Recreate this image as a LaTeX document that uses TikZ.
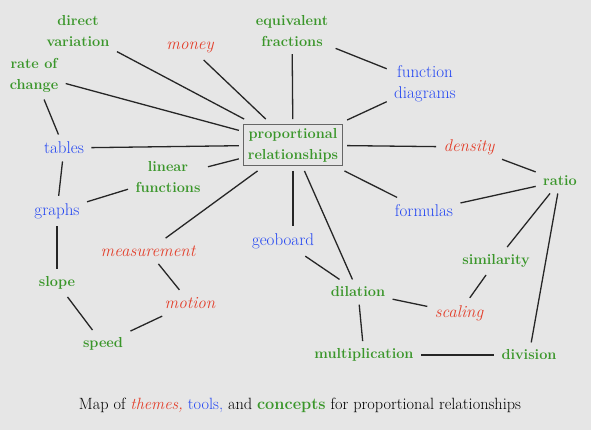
\documentclass[tikz,border=0pt]{standalone}
\usepackage{xcolor}

\definecolor{conceptgreen}{HTML}{3A962A}
\definecolor{toolblue}{HTML}{2346F2}
\definecolor{themered}{HTML}{E33E2A}
\definecolor{bggray}{HTML}{E6E6E6}

\tikzset{
  concept/.style={text=conceptgreen, font=\fontsize{14.5}{21}\selectfont\bfseries, align=center, inner sep=3pt, outer sep=4.5pt},
  tool/.style={text=toolblue, font=\fontsize{17}{21}\selectfont, align=center, inner sep=3pt, outer sep=4.5pt},
  theme/.style={text=themered, font=\fontsize{17}{21}\selectfont\itshape, align=center, inner sep=3pt, outer sep=4.5pt},
  link/.style={line width=1.3pt, draw=black!85}
}

\begin{document}
\begin{tikzpicture}[x=1pt, y=-1pt]
  \fill[bggray] (0,0) rectangle (591,430);
  \useasboundingbox (0,0) rectangle (591,430);

  % centre of the map
  \node[concept, draw=black!60, line width=1pt, inner sep=4pt, outer sep=5pt] (pr) at (293,145) {proportional\\relationships};

  % nodes
  \node[concept] (dirvar)   at (78,31)   {direct\\variation};
  \node[theme]   (money)    at (190,47)  {money};
  \node[concept] (rate)     at (34,75)   {rate of\\change};
  \node[concept] (eqfrac)   at (292,31)  {equivalent\\fractions};
  \node[tool]    (fundiag)  at (425,84)  {function\\diagrams};
  \node[tool]    (tables)   at (64,148)  {tables};
  \node[concept] (linfun)   at (168,177) {linear\\functions};
  \node[theme]   (density)  at (469,147) {density};
  \node[concept] (ratio)    at (560,181) {ratio};
  \node[tool]    (graphs)   at (57,211)  {graphs};
  \node[tool]    (formulas) at (424,211) {formulas};
  \node[theme]   (measure)  at (148,251) {measurement};
  \node[tool]    (geoboard) at (283,241) {geoboard};
  \node[concept] (slope)    at (57,283)  {slope};
  \node[theme]   (motion)   at (190,303) {motion};
  \node[concept] (similar)  at (496,261) {similarity};
  \node[concept] (dilation) at (358,292) {dilation};
  \node[theme]   (scaling)  at (459,313) {scaling};
  \node[concept] (speed)    at (103,344) {speed};
  \node[concept] (mult)     at (364,355) {multiplication};
  \node[concept] (division) at (529,355) {division};

  % spokes
  \draw[link] (dirvar) -- (pr);
  \draw[link] (money) -- (pr);
  \draw[link] (rate) -- (pr);
  \draw[link] (eqfrac) -- (pr);
  \draw[link] (fundiag) -- (pr);
  \draw[link] (tables) -- (pr);
  \draw[link] (linfun) -- (pr);
  \draw[link] (density) -- (pr);
  \draw[link] (measure) -- (pr);
  \draw[link] (pr.south) -- (pr.south |- geoboard.north);
  \draw[link] (dilation) -- (pr);
  \draw[link] (formulas) -- (pr);

  % other links
  \draw[link] (eqfrac) -- (fundiag);
  \draw[link] (rate) -- (tables);
  \draw[link] (tables) -- (graphs);
  \draw[link] (graphs) -- (linfun);
  \draw[link] (graphs) -- (slope);
  \draw[link] (slope) -- (speed);
  \draw[link] (speed) -- (motion);
  \draw[link] (motion) -- (measure);
  \draw[link] (density) -- (ratio);
  \draw[link] (ratio) -- (formulas);
  \draw[link] (ratio) -- (similar);
  \draw[link] (ratio) -- (division);
  \draw[link] (similar) -- (scaling);
  \draw[link] (scaling) -- (dilation);
  \draw[link] (dilation) -- (geoboard);
  \draw[link] (dilation) -- (mult);
  \draw[link] (mult) -- (division);

  % caption
  \node[font=\fontsize{16.3}{20}\selectfont] (caption) at (300,405)
    {Map of \textcolor{themered}{\itshape themes,} \textcolor{toolblue}{tools,} and \textcolor{conceptgreen}{\bfseries concepts} for proportional relationships};
\end{tikzpicture}
\end{document}
